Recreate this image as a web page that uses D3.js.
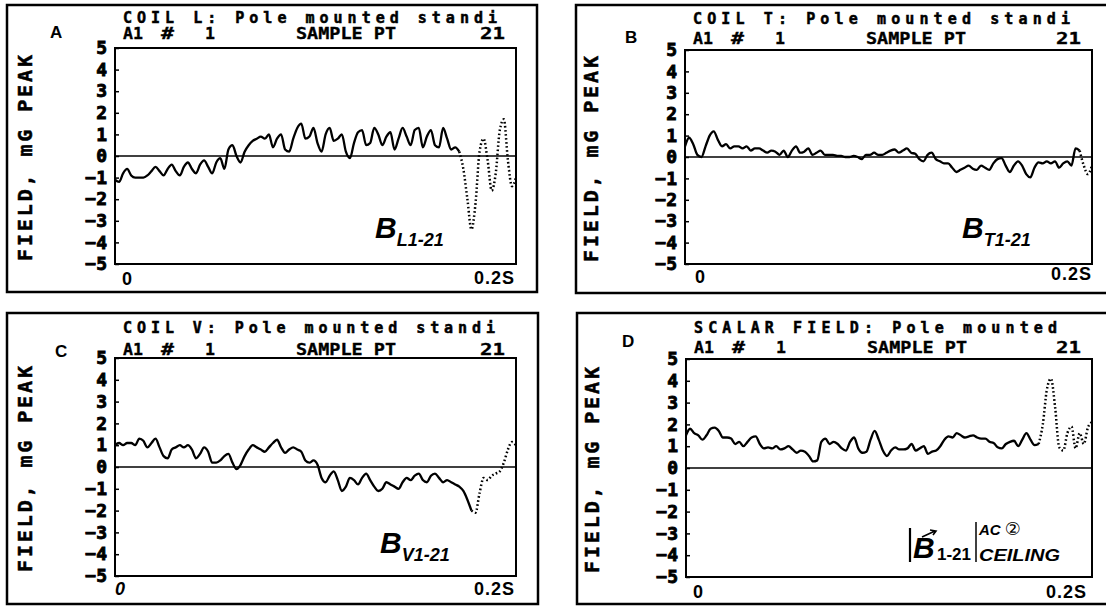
<!DOCTYPE html>
<html>
<head>
<meta charset="utf-8">
<script src="https://cdn.jsdelivr.net/npm/d3@7"></script>
<style>
  body { margin: 0; background: #fff; }
  svg { display: block; }
</style>
</head>
<body>
<script>
"use strict"

// field traces, mG peak, 100 samples over 0 .. 0.2 s
const coilL = [
  -1.1, -1.2, -0.8, -0.6, -0.9, -1.0, -1.0, -1.0, -0.9, -0.7,
  -0.5, -0.7, -0.9, -0.6, -0.4, -0.7, -0.9, -0.5, -0.3, -0.6,
  -0.8, -0.4, -0.2, -0.5, -0.8, -0.3, -0.1, -0.6, 0.3, 0.5,
  0.0, -0.3, 0.2, 0.5, 0.7, 0.8, 0.9, 0.8, 1.0, 0.4,
  0.8, 1.0, 0.3, 0.2, 0.8, 1.3, 1.5, 0.8, 0.9, 1.3,
  0.6, 0.2, 1.0, 1.3, 0.7, 0.8, 1.0, 0.2, -0.1, 0.6,
  1.1, 1.2, 0.5, 0.6, 1.3, 1.0, 0.5, 0.9, 1.1, 0.3,
  0.8, 1.3, 0.9, 0.5, 1.2, 1.3, 0.4, 0.9, 1.2, 0.5,
  0.4, 1.3, 0.8, 0.3, 0.4, 0.2, -0.6, -2.0, -3.4, -2.2,
  0.2, 0.8, -0.2, -1.6, -0.8, 1.2, 1.7, -0.2, -1.4, -1.0
];
const coilT = [
  0.5, 0.9, 0.6, 0.1, 0.0, 0.5, 1.0, 1.2, 0.8, 0.5,
  0.6, 0.4, 0.5, 0.5, 0.4, 0.5, 0.3, 0.4, 0.4, 0.3,
  0.2, 0.3, 0.25, 0.1, 0.3, 0.0, 0.3, 0.5, 0.2, 0.25,
  0.4, 0.1, 0.2, 0.3, 0.1, 0.1, 0.1, 0.05, 0.05, 0.0,
  0.0, 0.05, 0.0, -0.1, 0.1, 0.1, 0.2, 0.1, 0.1, 0.2,
  0.3, 0.35, 0.2, 0.3, 0.4, 0.2, 0.15, -0.1, -0.2, 0.1,
  0.2, -0.1, -0.2, -0.3, -0.3, -0.5, -0.7, -0.6, -0.5, -0.4,
  -0.55, -0.6, -0.4, -0.5, -0.6, -0.3, -0.1, -0.05, -0.4, -0.7,
  -0.4, -0.2, -0.4, -0.8, -0.95, -0.5, -0.25, -0.3, -0.2, -0.3,
  -0.2, -0.5, -0.3, -0.2, -0.4, 0.4, 0.3, -0.4, -0.8, -0.4
];
const coilV = [
  1.0, 1.1, 1.0, 1.1, 1.1, 1.0, 1.3, 1.2, 0.9, 1.1,
  1.3, 0.9, 0.5, 0.4, 0.8, 0.9, 1.0, 0.9, 1.0, 0.8,
  0.4, 0.6, 0.9, 0.7, 0.2, 0.2, 0.3, 0.5, 0.6, 0.2,
  -0.1, 0.1, 0.5, 0.8, 1.0, 0.9, 0.8, 0.7, 0.9, 1.1,
  1.25, 0.9, 0.65, 0.8, 0.9, 0.8, 0.7, 0.3, 0.2, 0.3,
  0.1, -0.5, -0.7, -0.4, -0.2, -0.6, -1.1, -0.9, -0.5, -0.6,
  -0.8, -0.5, -0.3, -0.6, -0.9, -1.1, -1.0, -0.7, -0.8, -0.9,
  -1.0, -0.7, -0.5, -0.6, -0.4, -0.3, -0.6, -0.7, -0.4, -0.3,
  -0.5, -0.7, -0.6, -0.7, -0.8, -0.9, -1.1, -1.5, -2.0, -2.1,
  -1.2, -0.5, -0.6, -0.4, -0.3, -0.2, 0.2, 0.8, 1.15, 1.0
];
const scalarField = [
  1.5, 1.8, 1.6, 1.5, 1.3, 1.5, 1.8, 1.85, 1.7, 1.4,
  1.4, 1.35, 1.1, 1.2, 1.0, 1.2, 1.4, 1.45, 1.1, 0.9,
  0.95, 0.9, 1.0, 0.85, 0.9, 1.0, 0.85, 0.7, 0.8, 0.75,
  0.55, 0.3, 0.35, 1.2, 1.35, 1.1, 1.2, 1.1, 0.9, 0.8,
  1.2, 1.4, 0.9, 0.7, 0.75, 1.3, 1.7, 1.3, 0.8, 0.55,
  0.8, 0.95, 0.85, 0.85, 0.9, 1.1, 0.8, 0.9, 1.0, 0.65,
  0.75, 0.8, 1.0, 1.3, 1.45, 1.4, 1.6, 1.5, 1.4, 1.45,
  1.5, 1.4, 1.35, 1.35, 1.2, 1.15, 0.95, 0.9, 1.1, 1.2,
  1.25, 1.0, 1.3, 1.6, 1.3, 1.05, 1.1, 2.0, 3.6, 4.1,
  2.8, 0.95, 0.8, 1.6, 1.9, 0.9, 1.6, 1.1, 1.85, 2.1
];

// time (s) after which the recorder plotted the trace dotted
const dottedFrom = [0.1736, 0.194, 0.1786, 0.174];

const yTicks = [5, 4, 3, 2, 1, 0, -1, -2, -3, -4, -5];
const tMax = 0.2;
const panelLetters = ["A", "B", "C", "D"];
const headings = [
  "COIL L: Pole mounted standi",
  "COIL T: Pole mounted standi",
  "COIL V: Pole mounted standi",
  "SCALAR FIELD: Pole mounted"
];
const headerWords = ["A1", "#", "1", "SAMPLE PT", "21"];
const yTitle = "FIELD, mG PEAK";
const xLabels = ["0", "0.2S"];
const subscripts = ["L1-21", "T1-21", "V1-21", "1-21"];

const series = [coilL, coilT, coilV, scalarField];

// page geometry of the four recorder frames
const layout = [
  {box: [7, 5, 537, 292], plot: [115, 48, 516, 264], letter: [50, 38], yTitleX: 25,
   h1: 23, h1len: 374, h2: 39, x0lab: [122, 285], x1lab: [515, 284], italic0: false, ann: [375, 238]},
  {box: [576, 5, 1112, 293], plot: [685, 50, 1092, 264], letter: [625, 43], yTitleX: 591,
   h1: 24, h1len: 377, h2: 44, x0lab: [695, 283], x1lab: [1092, 280], italic0: false, ann: [962, 238]},
  {box: [7, 313, 538, 604], plot: [115, 358, 516, 576], letter: [55, 357], yTitleX: 25,
   h1: 333, h1len: 372, h2: 355, x0lab: [115, 595], x1lab: [515, 595], italic0: true, ann: [380, 553]},
  {box: [577, 313, 1112, 604], plot: [686, 359, 1092, 577], letter: [622, 347], yTitleX: 592,
   h1: 333, h1len: 363, h2: 353, x0lab: [693, 598], x1lab: [1087, 598], italic0: false, ann: null}
];

const MONO = "'DejaVu Sans Mono', monospace";
const SANS = "'Liberation Sans', Arial, sans-serif";

const svg = d3.select("body")
  .append("svg")
  .attr("width", 1106)
  .attr("height", 606);

series.forEach((values, p) => drawPanel(values, p, layout[p]));
drawScalarLabel(layout[3]);

function drawPanel(values, p, L) {
  const [x0, y0, x1, y1] = L.plot;
  const g = svg.append("g");

  // outer frame
  g.append("rect")
    .attr("x", L.box[0]).attr("y", L.box[1])
    .attr("width", L.box[2] - L.box[0]).attr("height", L.box[3] - L.box[1])
    .attr("fill", "none").attr("stroke", "#000").attr("stroke-width", 2.5);

  const x = d3.scaleLinear().domain([0, tMax]).range([x0, x1]);
  const y = d3.scaleLinear().domain([-5, 5]).range([y1, y0]);

  const pts = values.map((v, i) => ({t: i * tMax / (values.length - 1), v: v}));

  // plot box
  g.append("rect")
    .attr("x", x0).attr("y", y0)
    .attr("width", x1 - x0).attr("height", y1 - y0)
    .attr("fill", "none").attr("stroke", "#000").attr("stroke-width", 2);

  // zero line
  g.append("line")
    .attr("x1", x0).attr("x2", x1)
    .attr("y1", y(0)).attr("y2", y(0))
    .attr("stroke", "#000").attr("stroke-width", 1.5);

  const yAxis = d3.axisLeft(y)
    .tickValues(yTicks)
    .tickSizeInner(-4)
    .tickSizeOuter(0)
    .tickPadding(8);

  g.append("g")
    .attr("transform", "translate(" + x0 + ",0)")
    .call(yAxis)
    .call(a => a.select(".domain").remove())
    .call(a => a.selectAll(".tick line").attr("stroke-width", 1.5))
    .call(a => a.selectAll(".tick text").attr("stroke", "#000").attr("stroke-width", 0.9))
    .attr("font-family", MONO)
    .attr("font-size", 18)
    .attr("font-weight", "bold");

  const line = d3.line()
    .x(d => x(d.t))
    .y(d => y(d.v))
    .curve(d3.curveMonotoneX);

  const cut = dottedFrom[p];
  const solid = pts.filter(d => d.t <= cut + 1e-9);
  const dotted = pts.filter((d, i) => d.t >= cut - 1e-9 || (pts[i + 1] && pts[i + 1].t > cut));

  g.append("path")
    .datum(solid)
    .attr("d", line)
    .attr("fill", "none")
    .attr("stroke", "#000")
    .attr("stroke-width", 2.3)
    .attr("stroke-linejoin", "round");

  g.append("path")
    .datum(dotted)
    .attr("d", line)
    .attr("fill", "none")
    .attr("stroke", "#000")
    .attr("stroke-width", 2.5)
    .attr("stroke-dasharray", "1.6 2.4");

  // heading, two lines of recorder text
  g.append("text")
    .attr("x", x0 + 8).attr("y", L.h1)
    .attr("textLength", L.h1len).attr("lengthAdjust", "spacing")
    .attr("font-family", MONO).attr("font-weight", "bold").attr("font-size", 15)
    .attr("stroke", "#000").attr("stroke-width", 0.5)
    .text(headings[p]);

  const wordX = [x0 + 8, x0 + 46, x0 + 90, x0 + 181, x1 - 11];
  const wordLen = [20, 13, 10, 100, 25];
  g.selectAll(".hw")
    .data(headerWords)
    .enter()
    .append("text")
    .attr("x", (d, i) => i === 4 ? wordX[i] - wordLen[i] : wordX[i])
    .attr("y", L.h2)
    .attr("textLength", (d, i) => wordLen[i])
    .attr("lengthAdjust", "spacingAndGlyphs")
    .attr("font-family", MONO).attr("font-weight", "bold").attr("font-size", 15)
    .attr("stroke", "#000").attr("stroke-width", 0.3)
    .text(d => d);

  // panel letter
  g.append("text")
    .attr("x", L.letter[0]).attr("y", L.letter[1])
    .attr("font-family", SANS).attr("font-weight", "bold").attr("font-size", 17)
    .text(panelLetters[p]);

  // y title
  g.append("text")
    .attr("transform", "translate(" + L.yTitleX + "," + ((y0 + y1) / 2 + 2) + ") rotate(-90)")
    .attr("text-anchor", "middle")
    .attr("dominant-baseline", "central")
    .attr("textLength", 206).attr("lengthAdjust", "spacing")
    .attr("font-family", MONO).attr("font-weight", "bold").attr("font-size", 20)
    .attr("stroke", "#000").attr("stroke-width", 0.5)
    .text(yTitle);

  // time labels
  g.append("text")
    .attr("x", L.x0lab[0]).attr("y", L.x0lab[1])
    .attr("font-family", SANS).attr("font-weight", "bold").attr("font-size", 18)
    .attr("font-style", L.italic0 ? "italic" : "normal")
    .text(xLabels[0]);
  g.append("text")
    .attr("x", L.x1lab[0]).attr("y", L.x1lab[1])
    .attr("text-anchor", "end")
    .attr("font-family", SANS).attr("font-weight", "bold").attr("font-size", 18)
    .attr("letter-spacing", 1)
    .text(xLabels[1]);

  if (L.ann) {
    const t = g.append("text")
      .attr("x", L.ann[0]).attr("y", L.ann[1])
      .attr("font-family", SANS).attr("font-weight", "bold").attr("font-style", "italic");
    t.append("tspan").attr("font-size", 30).text("B");
    t.append("tspan").attr("font-size", 18).attr("dy", 8).text(subscripts[p]);
  }
}

function drawScalarLabel(L) {
  const g = svg.append("g")
    .attr("font-family", SANS).attr("font-weight", "bold");

  g.append("line")
    .attr("x1", 910).attr("x2", 910).attr("y1", 528).attr("y2", 562)
    .attr("stroke", "#000").attr("stroke-width", 2.2);
  g.append("line")
    .attr("x1", 976).attr("x2", 976).attr("y1", 522).attr("y2", 562)
    .attr("stroke", "#000").attr("stroke-width", 1.5);

  g.append("text")
    .attr("x", 913).attr("y", 558)
    .attr("font-size", 30).attr("font-style", "italic")
    .text("B");
  // vector arrow over B
  g.append("path")
    .attr("d", "M922,537 L935,531 M930,530 L936,531 L933,535")
    .attr("fill", "none").attr("stroke", "#000").attr("stroke-width", 1.6);

  g.append("text")
    .attr("x", 937).attr("y", 560)
    .attr("font-size", 17)
    .text(subscripts[3]);

  g.append("text")
    .attr("x", 979).attr("y", 535)
    .attr("font-size", 15).attr("font-style", "italic")
    .text("AC ")
    .append("tspan")
    .attr("font-family", "'DejaVu Sans', 'Noto Sans CJK JP', sans-serif")
    .attr("font-style", "normal").attr("font-weight", "normal")
    .attr("font-size", 18)
    .text("②");

  g.append("text")
    .attr("x", 979).attr("y", 561)
    .attr("font-size", 16).attr("font-style", "italic")
    .attr("textLength", 81).attr("lengthAdjust", "spacingAndGlyphs")
    .text("CEILING");
}
</script>
</body>
</html>
